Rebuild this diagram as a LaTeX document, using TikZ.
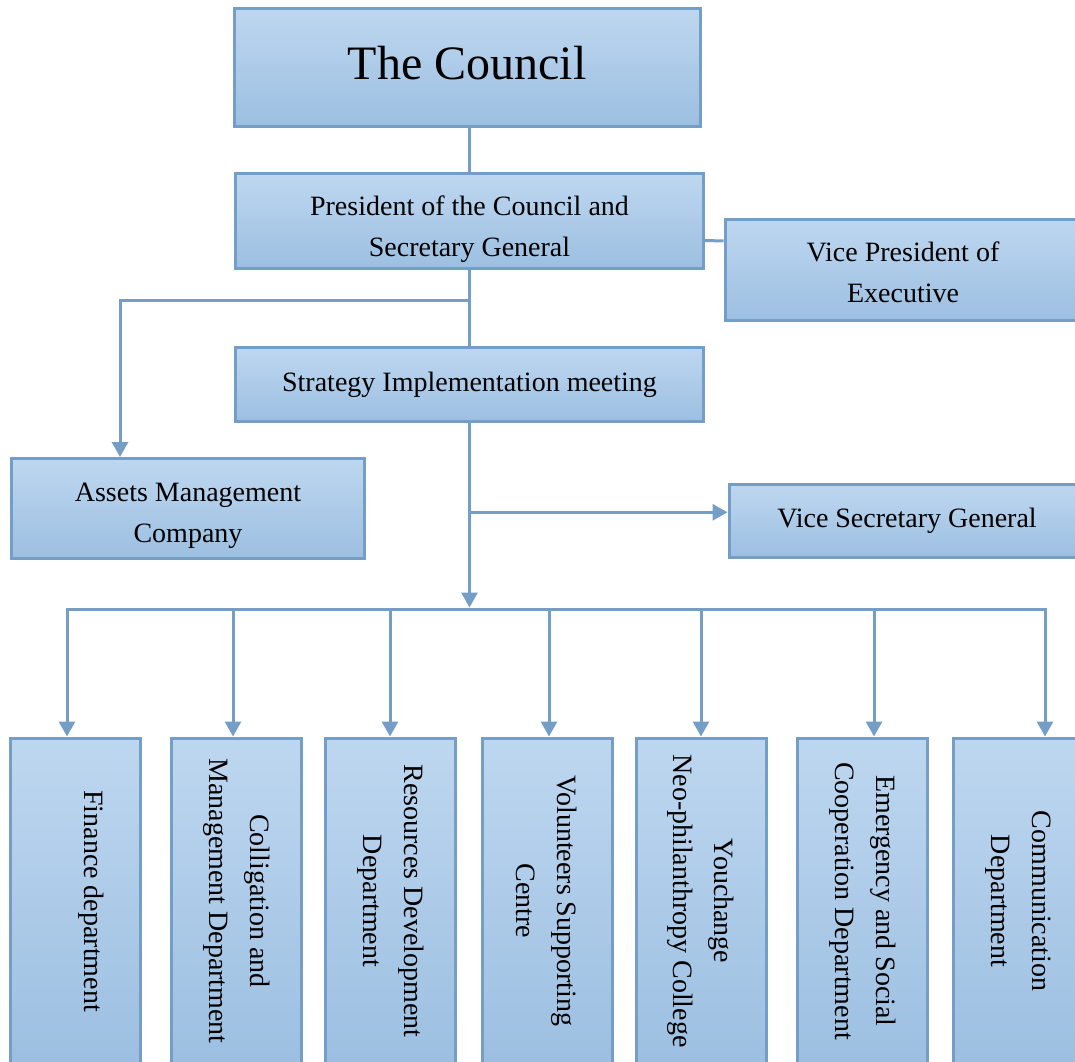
\documentclass[tikz,border=0pt]{standalone}
\usepackage{fontspec}
\setmainfont{Liberation Serif}
\usetikzlibrary{arrows.meta, calc}

\definecolor{boxline}{RGB}{116,158,198}
\definecolor{boxtop}{RGB}{190,215,240}
\definecolor{boxbot}{RGB}{156,191,225}

\begin{document}
\begin{tikzpicture}[x=1pt, y=-1pt,
  box/.style={rectangle, draw=boxline, line width=3pt, top color=boxtop, bottom color=boxbot,
    inner sep=0pt, align=center, font=\fontsize{28}{41}\selectfont},
  deptbox/.style={box, rotate=-90, minimum width=326pt, minimum height=130pt},
  conn/.style={draw=boxline, line width=3pt},
  arr/.style={conn, -{Triangle[length=15pt, width=16pt]}}]

\clip (0,0) rectangle (1075,1061);
\fill[white] (0,0) rectangle (1075,1061);

\node[box, minimum width=466pt, minimum height=118pt, text depth=10pt, font=\fontsize{48}{58}\selectfont] (council) at (467,67.5)
  {The Council};
\node[box, minimum width=468pt, minimum height=95pt, text height=78pt] (pres) at (469.5,221)
  {President of the Council and\\Secretary General};
\node[box, minimum width=356pt, minimum height=101pt, text height=66pt] (vp) at (903,270)
  {Vice President of\\Executive};
\node[box, minimum width=468pt, minimum height=74pt] (sim) at (469.5,384.5)
  {Strategy Implementation meeting};
\node[box, minimum width=353pt, minimum height=100pt, text height=75pt] (amc) at (188,508.5)
  {Assets Management\\Company};
\node[box, minimum width=356pt, minimum height=73pt] (vsg) at (907,521)
  {Vice Secretary General};

% departments
\node[deptbox, text depth=38pt] (fin) at (75.5,901)
  {Finance department};
\node[deptbox] (col) at (236.5,901)
  {Colligation and\\Management Department};
\node[deptbox] (res) at (390.5,901)
  {Resources Development\\Department};
\node[deptbox] (vol) at (547,901)
  {Volunteers Supporting\\Centre};
\node[deptbox] (you) at (701,901)
  {Youchange\\Neo-philanthropy College};
\node[deptbox] (emg) at (862.5,901)
  {Emergency and Social\\Cooperation Department};
\node[deptbox] (com) at (1018,901)
  {Communication\\Department};

\draw[conn] (council.south -| pres.north) -- (pres.north);
\draw[conn] ($(pres.south east)!0.3!(pres.north east)$) -- ($(vp.south west)!0.78!(vp.north west)$);
\draw[conn] (pres.south) -- (sim.north);

\coordinate (k1) at ($(pres.south)!0.4!(sim.north)$);
\draw[arr] (k1) -| ([xshift=110pt]amc.north west);

\coordinate (b1) at (67,609);
\coordinate (b2) at (233,609);
\coordinate (b3) at (390,609);
\coordinate (b4) at (549,609);
\coordinate (b5) at (701,609);
\coordinate (b6) at (874,609);
\coordinate (b7) at (1045,609);

\coordinate (k2) at ($(sim.south)!0.48!(sim.south |- b1)$);
\draw[arr] (k2) -- (k2 -| vsg.west);
\draw[arr, shorten >=1.5pt] (sim.south) -- (sim.south |- b1);

\draw[conn, line cap=rect] (b1) -- (b7);
\draw[arr] (b1) -- (b1 |- fin.west);
\draw[arr] (b2) -- (b2 |- col.west);
\draw[arr] (b3) -- (b3 |- res.west);
\draw[arr] (b4) -- (b4 |- vol.west);
\draw[arr] (b5) -- (b5 |- you.west);
\draw[arr] (b6) -- (b6 |- emg.west);
\draw[arr] (b7) -- (b7 |- com.west);

\end{tikzpicture}
\end{document}
